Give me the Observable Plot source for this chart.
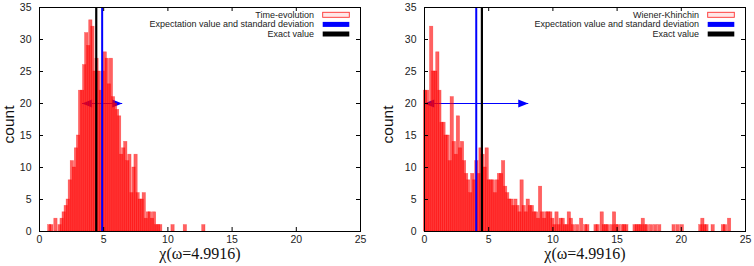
<!DOCTYPE html>
<html>
<head>
<meta charset="utf-8">
<script src="https://cdn.jsdelivr.net/npm/d3@7"></script>
<script src="https://cdn.jsdelivr.net/npm/@observablehq/plot@0.6"></script>
<style>
  body { margin: 0; background: #fff; }
  #charts { display: flex; width: 754px; height: 266px; }
  #charts svg { display: block; }
</style>
</head>
<body>
<div id="charts"></div>
<script>
// Histogram bin spacing shared by both samples
const binStep = 0.16;

// Time-evolution sample: counts per bin, bins centred from teFirstCenter
const teFirstCenter = 0.80;
const teCounts = [
  1, 1, 0, 2, 0, 1, 2, 3, 4, 5,
  8, 11, 10, 13, 15, 22, 22, 26, 31, 29,
  33, 32, 25, 27, 25, 22, 25, 28, 27, 23,
  27, 21, 20, 19, 18, 12, 13, 14, 11, 12,
  6, 10, 12, 6, 5, 5, 6, 2, 3, 3,
  2, 3, 1, 1, 1, 0, 0, 0, 0, 0,
  1, 0, 0, 0, 0, 0, 1, 0, 0, 0,
  0, 0, 0, 0, 0, 1
];
const teMean = 4.88;
const teStd = 1.56;
const teExact = 4.42;

// Wiener-Khinchin sample
const wkFirstCenter = 0.08;
const wkCounts = [
  22, 22, 20, 32, 25, 25, 28, 22, 17, 17,
  15, 15, 11, 21, 14, 12, 18, 13, 14, 11,
  9, 8, 6, 9, 8, 11, 9, 13, 12, 10,
  13, 8, 8, 8, 6, 8, 9, 9, 11, 7,
  6, 5, 5, 4, 5, 4, 3, 8, 4, 3,
  5, 4, 4, 3, 3, 2, 7, 3, 2, 3,
  3, 3, 2, 1, 3, 1, 2, 2, 1, 1,
  3, 2, 1, 0, 1, 0, 2, 0, 1, 1,
  0, 0, 0, 1, 1, 0, 3, 1, 1, 1,
  0, 1, 3, 1, 1, 0, 1, 1, 1, 0,
  0, 0, 1, 1, 1, 1, 2, 1, 1, 0,
  1, 0, 1, 0, 1, 0, 0, 0, 0, 0,
  0, 1, 0, 1, 0, 1, 0, 0, 0, 0,
  0, 0, 0, 0, 1, 2, 1, 1, 0, 0,
  1, 0, 0, 0, 0, 1, 1, 0, 2
];
const wkMean = 4.03;
const wkStd = 4.05;
const wkExact = 4.47;

// Axis ticks and texts
const xTicks = [0, 5, 10, 15, 20, 25];
const yTicks = [0, 5, 10, 15, 20, 25, 30, 35];
const xTitle = "χ(ω=4.9916)";
const yTitle = "count";
const legendMean = "Expectation value and standard deviation";
const legendExact = "Exact value";
const arrowLevel = 20;

// Filled triangular arrow head, tip at the origin, pointing right
const arrowHead = {
  draw(ctx, size) {
    const r = Math.sqrt(size / Math.PI);
    ctx.moveTo(0, 0);
    ctx.lineTo(-2 * r, -0.8 * r);
    ctx.lineTo(-2 * r, 0.8 * r);
    ctx.closePath();
  }
};

function panel({counts, firstCenter, mean, std, exact, seriesName, marginLeft, marginRight, titleDx}) {
  const W = 377, H = 266, marginTop = 7, marginBottom = 35;
  const innerW = W - marginLeft - marginRight;
  const innerH = H - marginTop - marginBottom;
  const half = binStep * 0.8;
  const bins = counts
    .map((count, i) => ({center: firstCenter + i * binStep, count}))
    .filter(d => d.count > 0);
  const heads = [
    {x: mean - std, rotate: 180},
    {x: mean + std, rotate: 0}
  ];

  const svg = Plot.plot({
    width: W,
    height: H,
    marginLeft, marginRight, marginTop, marginBottom,
    x: {domain: [0, 25]},
    y: {domain: [0, 35]},
    style: {fontFamily: "'Liberation Sans', Arial, sans-serif", fontSize: "10.5px", color: "#222", background: "#fff", overflow: "visible"},
    marks: [
      // standard-deviation arrow, lying beneath the translucent bars
      Plot.link([{mean, std}], {x1: d => d.mean - d.std, x2: d => d.mean + d.std, y1: () => arrowLevel, y2: () => arrowLevel, stroke: "#0000ff", strokeWidth: 1.2}),
      Plot.dot(heads, {x: "x", y: () => arrowLevel, rotate: "rotate", symbol: arrowHead, r: 5, fill: "#0000ff", stroke: "none"}),
      // histogram
      Plot.rectY(bins, {
        x1: d => d.center - half, x2: d => d.center + half, y: "count",
        fill: "#ff0000", fillOpacity: 0.62, stroke: "#ff0000", strokeOpacity: 0.45, strokeWidth: 0.6
      }),
      Plot.ruleX([mean], {stroke: "#0000ff", strokeWidth: 2}),
      Plot.ruleX([exact], {stroke: "#000", strokeWidth: 2.2}),
      // frame with inward ticks on all four sides
      Plot.frame({stroke: "#000", strokeWidth: 1}),
      Plot.tickY(yTicks, {y: d => d, insetRight: innerW - 4, stroke: "#000"}),
      Plot.tickY(yTicks, {y: d => d, insetLeft: innerW - 4, stroke: "#000"}),
      Plot.tickX(xTicks, {x: d => d, insetTop: innerH - 4, stroke: "#000"}),
      Plot.tickX(xTicks, {x: d => d, insetBottom: innerH - 4, stroke: "#000"}),
      Plot.axisY(yTicks, {tickSize: 0, tickPadding: 8, label: null, fill: "#222"}),
      Plot.axisX(xTicks, {tickSize: 0, tickPadding: 4, label: null, fill: "#222"}),
      Plot.text([xTitle], {
        frameAnchor: "bottom", textAnchor: "middle", lineAnchor: "middle", dy: 22,
        fontFamily: "'Liberation Serif', 'Times New Roman', serif", fontSize: 16, fill: "#111"
      }),
      Plot.text([yTitle], {
        frameAnchor: "left", textAnchor: "middle", lineAnchor: "middle",
        dx: titleDx, dy: 5, rotate: -90, fontSize: 15.5, fill: "#111"
      })
    ]
  });

  // legend in the upper-right corner of the frame
  const g = d3.select(svg).append("g")
    .attr("transform", `translate(${W - marginRight},${marginTop})`)
    .attr("font-family", "'Liberation Sans', Arial, sans-serif")
    .attr("font-size", 9)
    .attr("fill", "#222");
  const rows = [
    {label: seriesName, fill: "#ffe8e8", stroke: "#ff3030"},
    {label: legendMean, fill: "#0000ff", stroke: "none"},
    {label: legendExact, fill: "#000", stroke: "none"}
  ];
  rows.forEach((row, i) => {
    const cy = 7.8 + i * 9.6;
    g.append("text").attr("x", -46).attr("y", cy).attr("dy", "0.34em")
      .attr("text-anchor", "end").text(row.label);
    g.append("rect").attr("x", -37.3).attr("y", cy - 2.5).attr("width", 26.6).attr("height", 5)
      .attr("fill", row.fill).attr("stroke", row.stroke).attr("stroke-width", 0.9);
  });
  return svg;
}

const holder = document.getElementById("charts");
holder.append(panel({
  counts: teCounts, firstCenter: teFirstCenter, mean: teMean, std: teStd, exact: teExact,
  seriesName: "Time-evolution", marginLeft: 39, marginRight: 17, titleDx: -30.5
}));
holder.append(panel({
  counts: wkCounts, firstCenter: wkFirstCenter, mean: wkMean, std: wkStd, exact: wkExact,
  seriesName: "Wiener-Khinchin", marginLeft: 47, marginRight: 9, titleDx: -36.5
}));
</script>
</body>
</html>
